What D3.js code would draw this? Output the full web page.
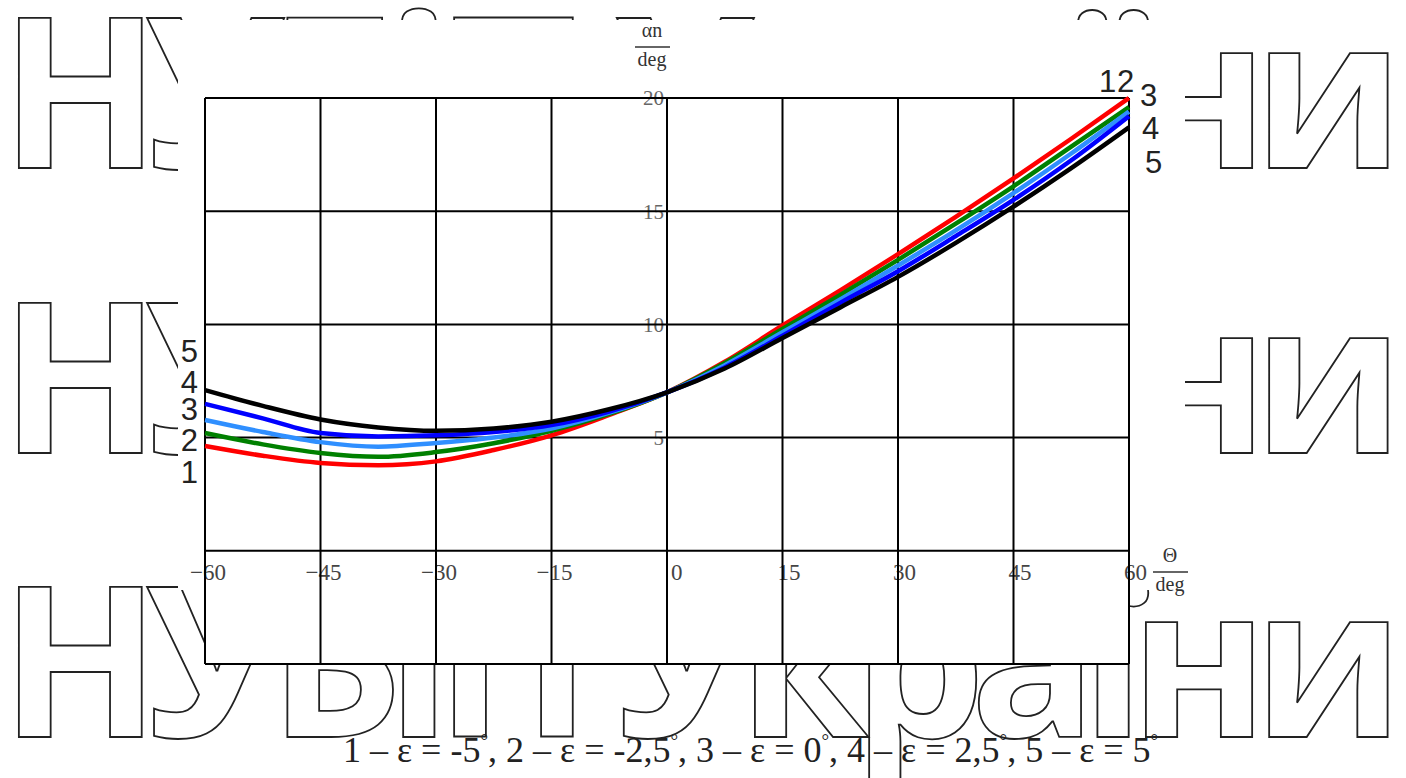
<!DOCTYPE html>
<html><head><meta charset="utf-8">
<script src="https://cdn.jsdelivr.net/npm/d3@7"></script>
<style>body{margin:0;background:#fff;overflow:hidden} svg{display:block}</style>
</head><body><svg id="c" width="1406" height="778"></svg>
<script>
// ---- data ----
const theta = [-60,-52.5,-45,-37.5,-30,-22.5,-15,-7.5,0,7.5,15,22.5,30,37.5,45,52.5,60];
const eps1 = [4.63,4.2,3.88,3.78,3.95,4.45,5.1,6.0,7.0,8.35,9.95,11.5,13.1,14.75,16.45,18.2,20.0];
const eps2 = [5.2,4.7,4.32,4.15,4.36,4.75,5.3,6.05,7.0,8.3,9.8,11.3,12.85,14.45,16.1,17.85,19.6];
const eps3 = [5.78,5.25,4.8,4.6,4.76,5.0,5.4,6.1,7.0,8.2,9.65,11.1,12.6,14.15,15.8,17.55,19.4];
const eps4 = [6.49,5.85,5.2,5.05,5.1,5.25,5.55,6.15,7.0,8.1,9.5,10.95,12.35,13.9,15.5,17.25,19.2];
const eps5 = [7.1,6.4,5.8,5.45,5.3,5.4,5.7,6.25,7.0,8.05,9.4,10.75,12.1,13.6,15.2,16.9,18.7];
const seriesLabels = ["1","2","3","4","5"];
const xTicks = [-60,-45,-30,-15,0,15,30,45,60];
const yGrid = [-5,0,5,10,15,20];
const yTickLabels = [5,10,15,20];
const watermark = "НУБіП України";
const captionParts = ["1 – ε = -5",", 2 – ε = -2,5",", 3 – ε = 0",", 4 – ε = 2,5",", 5 – ε = 5"];
const yTitle = "αn", xTitle = "Θ", unit = "deg";

// ---- drawing ----
const svg = d3.select("#c");
const colors = ["#ff0000","#008000","#2f8fff","#0000ff","#000000"];
const series = [eps1,eps2,eps3,eps4,eps5];

// watermark rows
[168,453,737].forEach(b=>{
  svg.append("text").attr("x",0).attr("y",b)
    .attr("font-family","'Open Sans'").attr("font-weight",700).attr("font-size",210)
    .attr("textLength",1404).attr("lengthAdjust","spacing")
    .attr("fill","none").attr("stroke","#222").attr("stroke-width",1.8)
    .text(watermark);
});
// chart image cover
svg.append("rect").attr("x",178).attr("y",20).attr("width",1007).attr("height",570).attr("fill","#fff");

const x = d3.scaleLinear().domain([-60,60]).range([205,1129]);
const y = d3.scaleLinear().domain([-5,20]).range([664,98]);

svg.append("rect").attr("x",x(-60)).attr("y",y(20)).attr("width",x(60)-x(-60)).attr("height",y(-5)-y(20)).attr("fill","#fff");

// y tick labels (behind grid)
svg.append("g").selectAll("text").data(yTickLabels).join("text")
  .attr("x",x(0)-3).attr("y",d=>y(d)).attr("dy","0.35em")
  .attr("text-anchor","end").attr("font-family","'Liberation Serif'").attr("font-size",21)
  .attr("fill","#666").text(d=>d);

// x tick labels
svg.append("g").selectAll("text").data(xTicks).join("text")
  .attr("x",d=> d<0 ? x(d)-15 : (d===0 ? x(d)+4 : x(d)-5))
  .attr("y",y(0)+29)
  .attr("font-family","'Liberation Serif'").attr("font-size",23)
  .attr("fill","#444").text(d=> d<0 ? "−"+(-d) : d);

// grid
const g = svg.append("g").attr("stroke","#000").attr("stroke-width",2);
g.selectAll(".v").data(xTicks).join("line").attr("class","v")
  .attr("x1",d=>x(d)).attr("x2",d=>x(d)).attr("y1",y(20)).attr("y2",y(-5));
g.selectAll(".h").data(yGrid).join("line").attr("class","h")
  .attr("x1",x(-60)).attr("x2",x(60)).attr("y1",d=>y(d)).attr("y2",d=>y(d));

// curves
const line = d3.line().x((d,i)=>x(theta[i])).y(d=>y(d)).curve(d3.curveMonotoneX);
svg.append("g").selectAll("path").data(series).join("path")
  .attr("d",d=>line(d)).attr("fill","none")
  .attr("stroke",(d,i)=>colors[i]).attr("stroke-width",4.5).attr("stroke-linejoin","round");

// curve labels left
const leftBase = [483,451,420,393,362];
svg.append("g").selectAll("text").data(seriesLabels).join("text")
  .attr("x",198).attr("y",(d,i)=>leftBase[i]).attr("text-anchor","end")
  .attr("font-family","'Liberation Sans'").attr("font-size",31).attr("fill","#222").text(d=>d);
// curve labels right
const rightPos = [[1099,92],[1117,92],[1140,106],[1142,139],[1145,173]];
svg.append("g").selectAll("text").data(seriesLabels).join("text")
  .attr("x",(d,i)=>rightPos[i][0]).attr("y",(d,i)=>rightPos[i][1])
  .attr("font-family","'Liberation Sans'").attr("font-size",31).attr("fill","#222").text(d=>d);

// axis titles (fractions)
function frac(cx, top, num){
  svg.append("text").attr("x",cx).attr("y",top).attr("text-anchor","middle")
    .attr("font-family","'Liberation Serif'").attr("font-size",20).attr("fill","#333").text(num);
  svg.append("line").attr("x1",cx-17).attr("x2",cx+18).attr("y1",top+10).attr("y2",top+10)
    .attr("stroke","#333").attr("stroke-width",1.5);
  svg.append("text").attr("x",cx).attr("y",top+29).attr("text-anchor","middle")
    .attr("font-family","'Liberation Serif'").attr("font-size",20).attr("fill","#333").text(unit);
}
frac(652,37,yTitle);
frac(1170,562,xTitle);

// caption
const cap = svg.append("text").attr("x",343).attr("y",762)
  .attr("font-family","'Liberation Serif'").attr("font-size",36).attr("fill","#222");
captionParts.forEach((s,i)=>{
  const t = cap.append("tspan").text(s);
  if(i>0) t.attr("dy",15);
  cap.append("tspan").attr("font-size",19).attr("dy",-15).text("°");
});
</script></body></html>
